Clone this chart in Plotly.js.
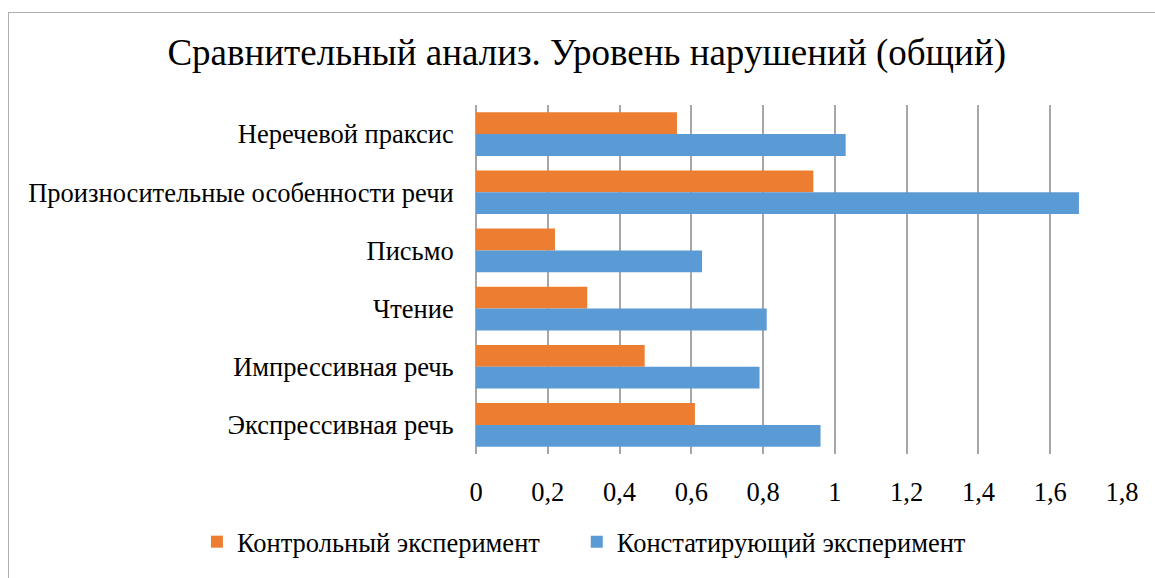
<!DOCTYPE html>
<html>
<head>
<meta charset="utf-8">
<script src="https://cdn.plot.ly/plotly-3.0.1.min.js"></script>
<style>
  body { margin: 0; background: #fff; }
  #frame { position: absolute; left: 8px; top: 12px; width: 1160px; height: 580px;
           border-left: 1px solid #b0b0b0; border-top: 1px solid #b0b0b0; pointer-events: none; }
</style>
</head>
<body>
<div id="chart" style="width:1155px;height:578px"></div>
<div id="frame"></div>
<script>
// categories, top to bottom
var categories = ['Неречевой праксис', 'Произносительные особенности речи', 'Письмо',
                  'Чтение', 'Импрессивная речь', 'Экспрессивная речь'];

var controlName = 'Контрольный эксперимент';
var controlValues = [0.56, 0.94, 0.22, 0.31, 0.47, 0.61];

var statingName = 'Констатирующий эксперимент';
var statingValues = [1.03, 1.68, 0.63, 0.81, 0.79, 0.96];

var xTicks = [0, 0.2, 0.4, 0.6, 0.8, 1, 1.2, 1.4, 1.6, 1.8];

var serif = 'Liberation Serif';

var control = {
    type: 'bar',
    orientation: 'h',
    name: controlName,
    x: controlValues,
    y: categories,
    marker: {color: '#ED7D31'},
    legend: 'legend'
};

var stating = {
    type: 'bar',
    orientation: 'h',
    name: statingName,
    x: statingValues,
    y: categories,
    marker: {color: '#5B9BD5'},
    legend: 'legend2'
};

// one legend per series so each entry can sit where it does in the picture
var legendBase = {
    orientation: 'h',
    xanchor: 'left',
    y: -0.252,
    yanchor: 'middle',
    font: {family: serif, size: 26.5, color: '#000'}
};

var layout = {
    width: 1155,
    height: 578,
    separators: ', ',
    title: {
        text: 'Сравнительный анализ. Уровень нарушений (общий)',
        font: {family: serif, size: 37, color: '#000'},
        x: 0.508,
        xanchor: 'center',
        y: 0.91,
        yanchor: 'middle'
    },
    margin: {l: 476, r: 33, t: 105, b: 120},
    barmode: 'group',
    bargap: 0.25,
    bargroupgap: 0,
    xaxis: {
        range: [0, 1.8],
        tickvals: xTicks,
        showgrid: true,
        gridcolor: '#a6a6a6',
        gridwidth: 1.5,
        zeroline: true,
        zerolinecolor: '#a6a6a6',
        zerolinewidth: 1.5,
        ticks: 'outside',
        ticklen: 14,
        tickcolor: 'rgba(0,0,0,0)',
        tickfont: {family: serif, size: 26.5, color: '#000'}
    },
    yaxis: {
        type: 'category',
        categoryorder: 'array',
        categoryarray: categories,
        range: [5.5, -0.5],
        showgrid: false,
        zeroline: false,
        ticks: 'outside',
        ticklen: 16,
        tickcolor: 'rgba(0,0,0,0)',
        tickfont: {family: serif, size: 26.5, color: '#000'}
    },
    showlegend: true,
    legend: Object.assign({}, legendBase, {x: -0.432}),
    legend2: Object.assign({}, legendBase, {x: 0.156})
};

Plotly.newPlot('chart', [control, stating], layout, {displayModeBar: false});
</script>
</body>
</html>
